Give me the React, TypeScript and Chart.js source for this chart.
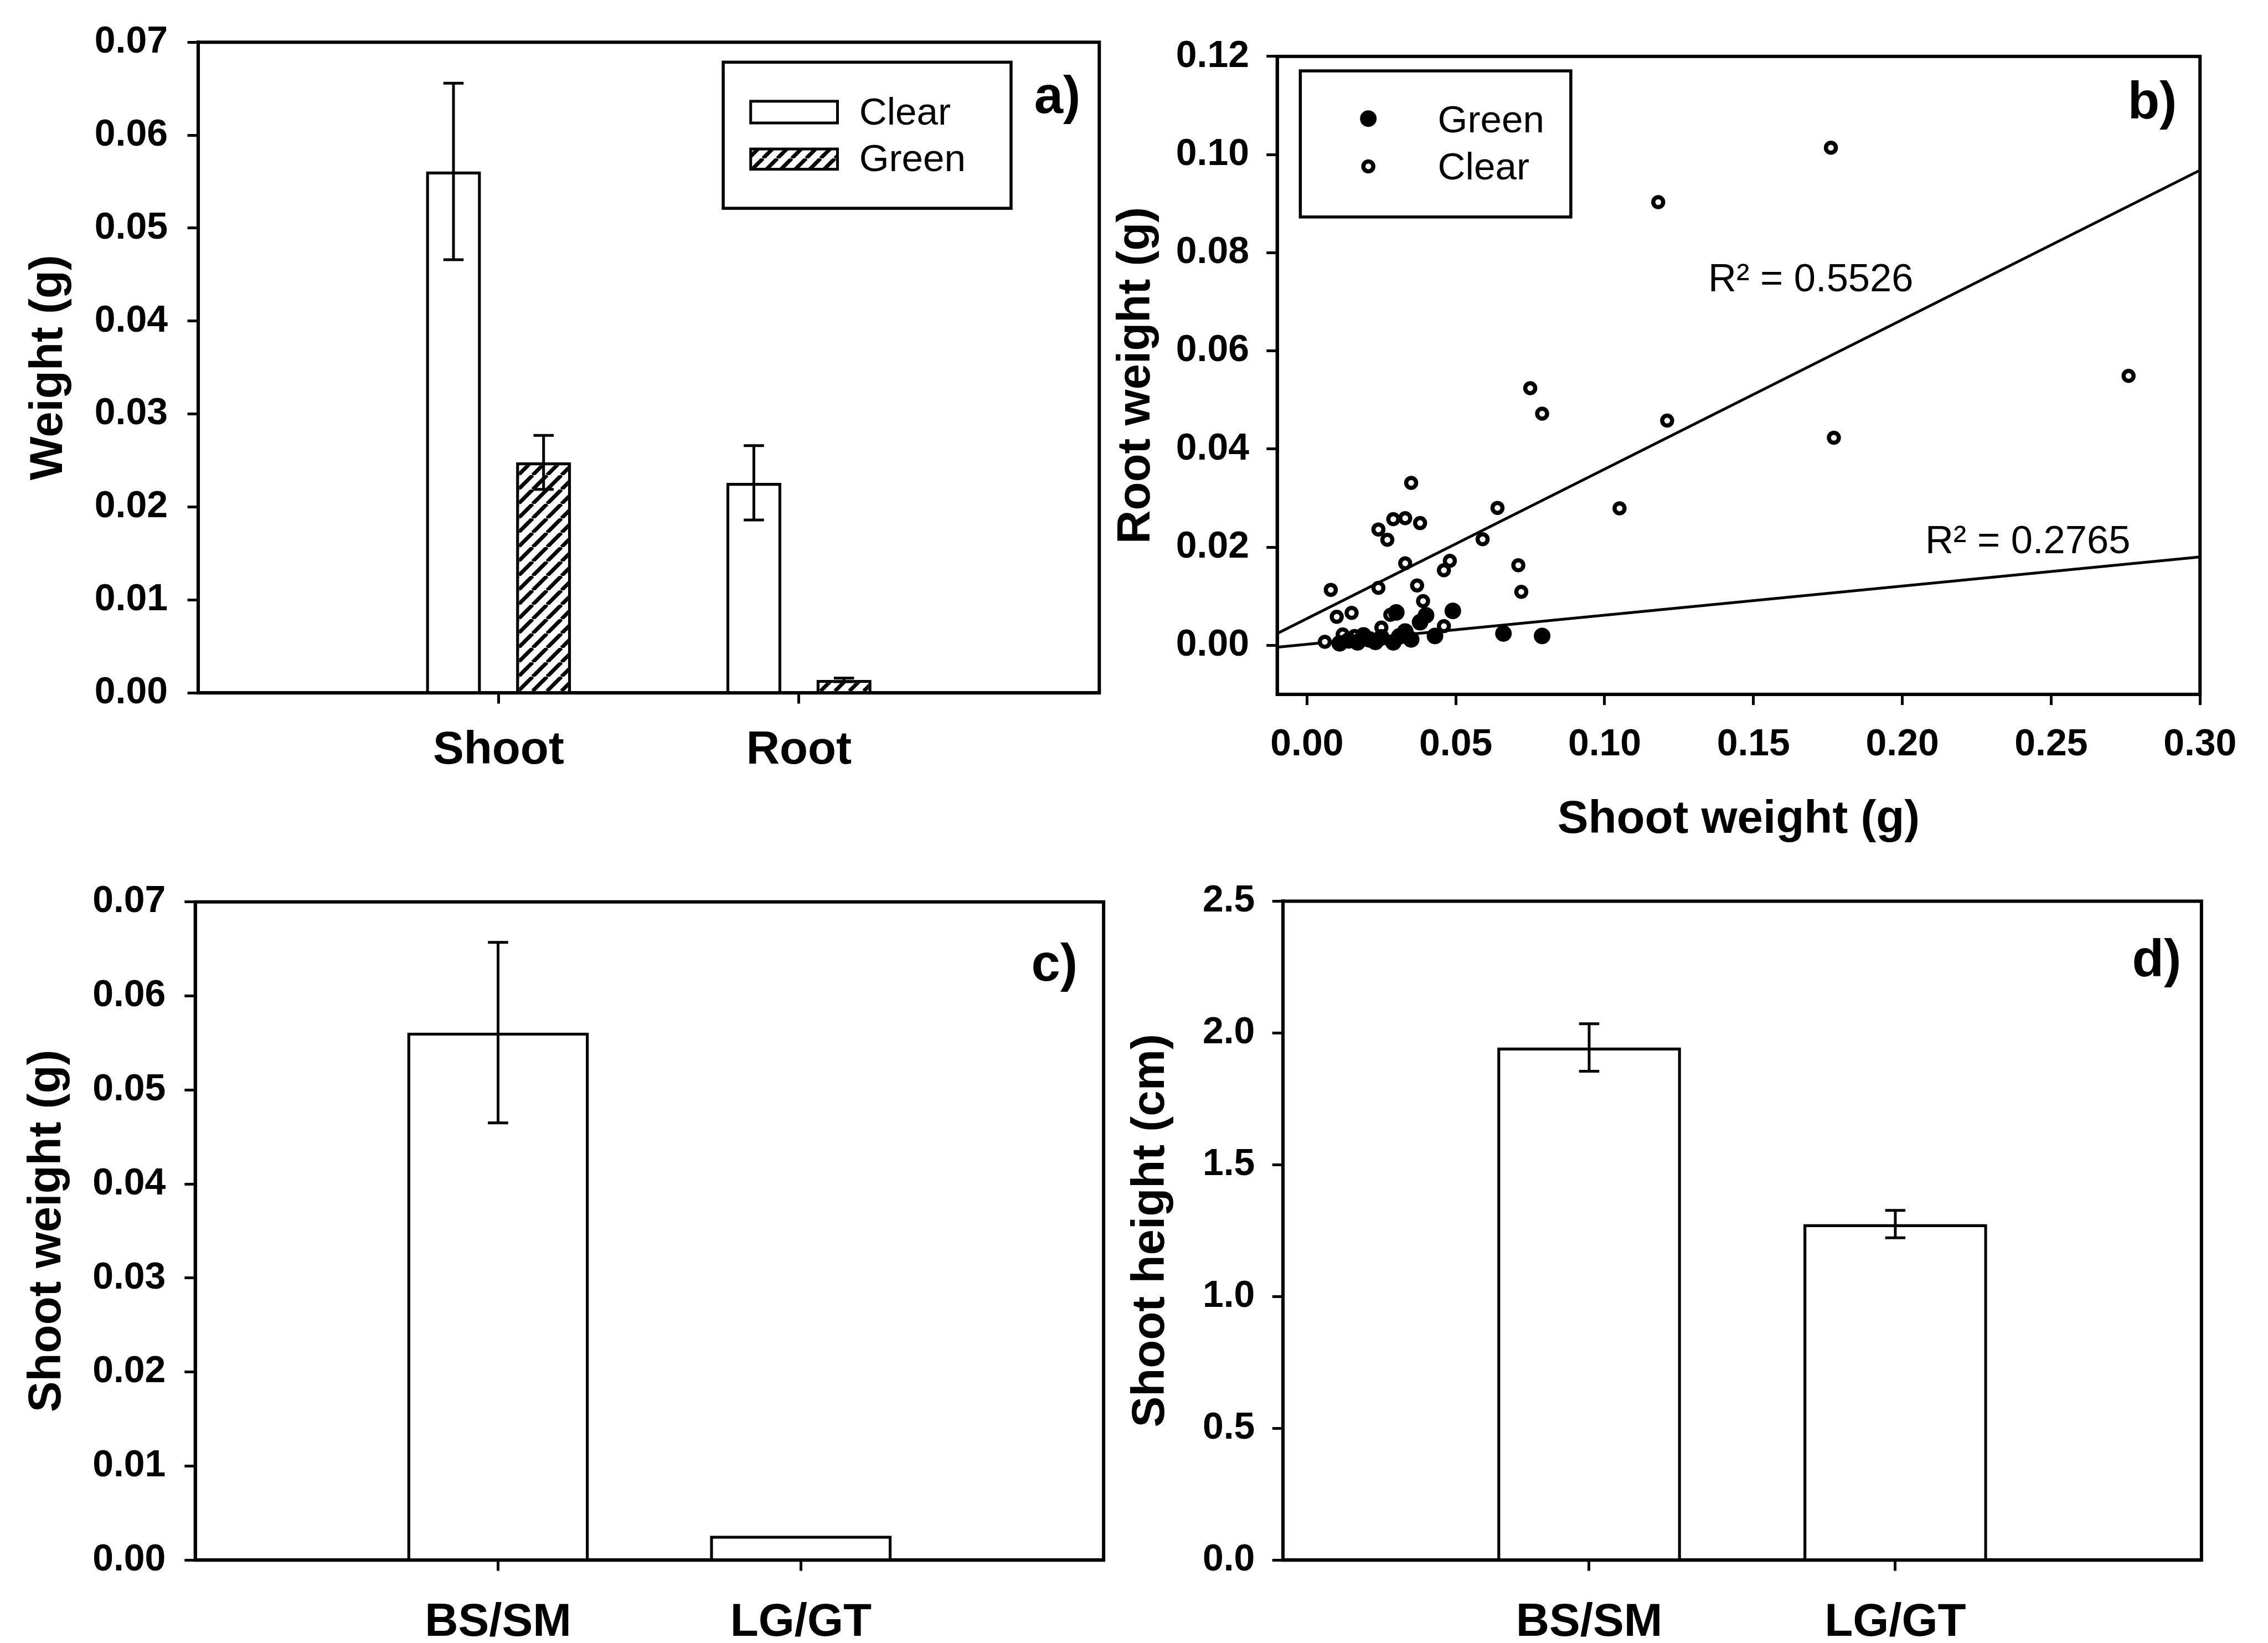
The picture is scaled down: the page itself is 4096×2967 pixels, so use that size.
import React, { useEffect, useRef } from "react";
import { Chart, registerables } from "chart.js";

Chart.register(...registerables);

// ---------------- data ----------------
// Panel a
const aCategories = ["Shoot", "Root"];
const aClearValues = [0.0561, 0.0226];
const aClearErrors = [0.0095, 0.004];
const aGreenValues = [0.0248, 0.0014];
const aGreenErrors = [0.0029, 0.0002];
const aYTicks = [0, 0.01, 0.02, 0.03, 0.04, 0.05, 0.06, 0.07];
const aLegend = ["Clear", "Green"];

// Panel b
const bGreenX = [0.011, 0.014, 0.017, 0.019, 0.021, 0.023, 0.025, 0.029, 0.03, 0.031, 0.033, 0.035, 0.038, 0.04, 0.043, 0.049, 0.066, 0.079];
const bGreenY = [0.0004, 0.001, 0.0006, 0.002, 0.0012, 0.0007, 0.0016, 0.0006, 0.0067, 0.0018, 0.0028, 0.0012, 0.0047, 0.0061, 0.0019, 0.007, 0.0024, 0.0019];
const bClearX = [0.176, 0.118, 0.276, 0.075, 0.079, 0.121, 0.177, 0.035, 0.064, 0.105, 0.029, 0.033, 0.038, 0.024, 0.027, 0.059, 0.033, 0.048, 0.046, 0.071, 0.008, 0.024, 0.037, 0.072, 0.039, 0.01, 0.015, 0.028, 0.046, 0.025, 0.006, 0.016, 0.012];
const bClearY = [0.1014, 0.0903, 0.0549, 0.0524, 0.0472, 0.0458, 0.0423, 0.0331, 0.028, 0.0279, 0.0257, 0.0259, 0.0249, 0.0236, 0.0215, 0.0216, 0.0167, 0.0172, 0.0153, 0.0163, 0.0113, 0.0117, 0.0122, 0.0109, 0.009, 0.0058, 0.0066, 0.0062, 0.0039, 0.0036, 0.0007, 0.0019, 0.0022];
const bFitX = [-0.01, 0.3];
const bClearFitY = [0.0024, 0.0968];
const bGreenFitY = [-0.0004, 0.018];
const bXTicks = [0, 0.05, 0.1, 0.15, 0.2, 0.25, 0.3];
const bYTicks = [0, 0.02, 0.04, 0.06, 0.08, 0.1, 0.12];
const bR2Labels = ["R\u00B2 = 0.5526", "R\u00B2 = 0.2765"];
const bLegend = ["Green", "Clear"];

// Panel c
const cCategories = ["BS/SM", "LG/GT"];
const cValues = [0.0561, 0.0026];
const cErrors = [0.0096, 0];
const cYTicks = [0, 0.01, 0.02, 0.03, 0.04, 0.05, 0.06, 0.07];

// Panel d
const dCategories = ["BS/SM", "LG/GT"];
const dValues = [1.945, 1.275];
const dErrors = [0.09, 0.052];
const dYTicks = [0, 0.5, 1, 1.5, 2, 2.5];

// ---------------- geometry / style ----------------
const S = 4096 / 1568;
const PAGE_W = 4096;
const PAGE_H = 2967;
const FAMILY = '"Liberation Sans", Arial, Helvetica, sans-serif';
const TICK_SIZE = 26;
const TITLE_SIZE = 32;
const CAT_SIZE = 32;
const LETTER_SIZE = 36;
const LEGEND_SIZE = 26.5;
const TICK_LEN = 7.4 * S;
const AXIS_W = 6;
const TICK_W = 5;
const BAR_W = 5.5;
const ERR_W = 5;
const FIT_W = 5;

type Rect4 = [number, number, number, number];
interface Geo { canvas: Rect4; plot: Rect4; }

const GEO_A: Geo = { canvas: [0, 0, 766, 595], plot: [137, 27, 760, 479] };
const GEO_B: Geo = { canvas: [766, 0, 802, 595], plot: [883, 39, 1521, 480] };
const GEO_C: Geo = { canvas: [0, 595, 766, 541], plot: [135, 622, 763, 1078.5] };
const GEO_D: Geo = { canvas: [766, 595, 802, 541], plot: [887, 623, 1522, 1078.5] };
const GEOS = [GEO_A, GEO_B, GEO_C, GEO_D];

function canvasBox(g: Geo) {
  const x0 = Math.round(g.canvas[0] * S);
  const y0 = Math.round(g.canvas[1] * S);
  const x1 = Math.min(PAGE_W, Math.round((g.canvas[0] + g.canvas[2]) * S));
  const y1 = Math.min(PAGE_H, Math.round((g.canvas[1] + g.canvas[3]) * S));
  return { cx: x0, cy: y0, cw: x1 - x0, ch: y1 - y0 };
}

function layoutFor(g: Geo) {
  const { cx, cy, cw, ch } = canvasBox(g);
  const [L, T, R, B] = g.plot.map((v) => v * S);
  return {
    cx, cy, cw, ch,
    yW: L - cx,
    xH: cy + ch - B,
    padding: { left: 0, top: T - cy, right: cx + cw - R, bottom: 0 },
  };
}

const font = (size: number, bold: boolean) => ({
  family: FAMILY,
  size: size * S,
  weight: bold ? "bold" : "normal",
  lineHeight: 1.2,
});

function axisLines() {
  return {
    grid: {
      display: true,
      drawOnChartArea: false,
      drawTicks: true,
      tickLength: TICK_LEN,
      tickWidth: TICK_W,
      tickColor: "#000",
      lineWidth: TICK_W,
      color: "#000",
      offset: false,
    },
    border: { display: true, color: "#000", width: AXIS_W },
  };
}

function yAxis(lay: any, ticks: number[], min: number, max: number, decimals: number, title: string, titleX: number, labelPad: number) {
  const tf = font(TITLE_SIZE, true);
  return {
    type: "linear",
    min,
    max,
    afterBuildTicks: (s: any) => { s.ticks = ticks.map((v) => ({ value: v })); },
    afterFit: (s: any) => { s.width = lay.yW; },
    ticks: {
      callback: (v: any) => Number(v).toFixed(decimals),
      font: font(TICK_SIZE, true),
      color: "#000",
      padding: labelPad * S,
      autoSkip: false,
    },
    title: {
      display: true,
      text: title,
      font: tf,
      color: "#000",
      padding: { top: titleX * S - lay.cx - (tf.size * 1.2) / 2, bottom: 0 },
    },
    ...axisLines(),
  };
}

// ---------------- drawing helpers ----------------
function makeDraw(ctx: CanvasRenderingContext2D, cx: number, cy: number) {
  const X = (x: number) => x * S - cx;
  const Y = (y: number) => y * S - cy;
  return {
    ctx,
    text(str: string, x: number, y: number, size: number, bold: boolean, align: CanvasTextAlign) {
      ctx.font = `${bold ? "bold " : ""}${size * S}px ${FAMILY}`;
      ctx.fillStyle = "#000";
      ctx.textAlign = align;
      ctx.textBaseline = "middle";
      ctx.fillText(str, X(x), Y(y));
    },
    rect(x1: number, y1: number, x2: number, y2: number, fill: any, lw: number) {
      if (fill) {
        ctx.fillStyle = fill;
        ctx.fillRect(X(x1), Y(y1), X(x2) - X(x1), Y(y2) - Y(y1));
      }
      ctx.strokeStyle = "#000";
      ctx.lineWidth = lw;
      ctx.strokeRect(X(x1), Y(y1), X(x2) - X(x1), Y(y2) - Y(y1));
    },
    dot(x: number, y: number, rPx: number, fill: string, lw: number) {
      ctx.beginPath();
      ctx.arc(X(x), Y(y), rPx, 0, Math.PI * 2);
      ctx.fillStyle = fill;
      ctx.fill();
      if (lw > 0) {
        ctx.strokeStyle = "#000";
        ctx.lineWidth = lw;
        ctx.stroke();
      }
    },
  };
}

function decorPlugin(cx: number, cy: number, draw: (d: ReturnType<typeof makeDraw>) => void) {
  return {
    id: "decor",
    afterDraw(chart: any) {
      const ctx = chart.ctx as CanvasRenderingContext2D;
      ctx.save();
      draw(makeDraw(ctx, cx, cy));
      ctx.restore();
    },
  };
}

const framePlugin = {
  id: "frame",
  afterDatasetsDraw(chart: any) {
    const { left, top, right, bottom } = chart.chartArea;
    const ctx = chart.ctx as CanvasRenderingContext2D;
    ctx.save();
    ctx.strokeStyle = "#000";
    ctx.lineWidth = AXIS_W;
    ctx.strokeRect(left, top, right - left, bottom - top);
    ctx.restore();
  },
};

function errorBarPlugin(errs: number[][]) {
  return {
    id: "errorBars",
    afterDatasetsDraw(chart: any) {
      const ctx = chart.ctx as CanvasRenderingContext2D;
      const ys = chart.scales.y;
      const cap = 7 * S;
      ctx.save();
      ctx.strokeStyle = "#000";
      ctx.lineWidth = ERR_W;
      errs.forEach((arr, di) => {
        const meta = chart.getDatasetMeta(di);
        meta.data.forEach((el: any, i: number) => {
          const e = arr[i];
          if (!e) return;
          const v = chart.data.datasets[di].data[i].y;
          const yt = ys.getPixelForValue(v + e);
          const yb = ys.getPixelForValue(v - e);
          ctx.beginPath();
          ctx.moveTo(el.x, yt);
          ctx.lineTo(el.x, yb);
          ctx.moveTo(el.x - cap, yt);
          ctx.lineTo(el.x + cap, yt);
          ctx.moveTo(el.x - cap, yb);
          ctx.lineTo(el.x + cap, yb);
          ctx.stroke();
        });
      });
      ctx.restore();
    },
  };
}

function makeHatch(): CanvasPattern | string {
  const p = Math.round(10 * S);
  const c = document.createElement("canvas");
  c.width = p;
  c.height = p;
  const g = c.getContext("2d");
  if (!g) return "#888";
  g.fillStyle = "#fff";
  g.fillRect(0, 0, p, p);
  g.strokeStyle = "#000";
  g.lineWidth = 7;
  g.beginPath();
  for (const o of [-p, 0, p]) {
    g.moveTo(o, p);
    g.lineTo(o + p, 0);
  }
  g.stroke();
  return g.createPattern(c, "repeat") || "#888";
}

// ---------------- panel configs ----------------
function barPanel(
  geo: Geo,
  o: {
    categories: string[];
    series: { values: number[]; errors: number[]; fill: any }[];
    yTicks: number[];
    yMax: number;
    decimals: number;
    yTitle: string;
    yTitleX: number;
    xLabelPad: number;
    yLabelPad: number;
    catPct: number;
    barPct: number;
    decor: (d: ReturnType<typeof makeDraw>) => void;
  }
) {
  const lay = layoutFor(geo);
  return {
    type: "bar",
    data: {
      datasets: o.series.map((s) => ({
        data: s.values.map((v, i) => ({ x: i + 1, y: v })),
        backgroundColor: s.fill,
        borderColor: "#000",
        borderWidth: BAR_W,
        borderSkipped: "start",
        categoryPercentage: o.catPct,
        barPercentage: o.barPct,
      })),
    },
    options: {
      animation: false,
      responsive: false,
      maintainAspectRatio: false,
      events: [],
      layout: { padding: lay.padding },
      plugins: { legend: { display: false }, tooltip: { enabled: false }, title: { display: false } },
      scales: {
        x: {
          type: "linear",
          min: 0,
          max: 3,
          offset: false,
          afterBuildTicks: (s: any) => { s.ticks = o.categories.map((_, i) => ({ value: i + 1 })); },
          afterFit: (s: any) => { s.height = lay.xH; },
          ticks: {
            callback: (_v: any, i: number) => o.categories[i] ?? "",
            font: font(CAT_SIZE, true),
            color: "#000",
            padding: o.xLabelPad * S,
            maxRotation: 0,
            minRotation: 0,
            autoSkip: false,
          },
          ...axisLines(),
        },
        y: yAxis(lay, o.yTicks, 0, o.yMax, o.decimals, o.yTitle, o.yTitleX, o.yLabelPad),
      },
    },
    plugins: [errorBarPlugin(o.series.map((s) => s.errors)), framePlugin, decorPlugin(lay.cx, lay.cy, o.decor)],
  };
}

function configA(hatch: any) {
  return barPanel(GEO_A, {
    categories: aCategories,
    series: [
      { values: aClearValues, errors: aClearErrors, fill: "#fff" },
      { values: aGreenValues, errors: aGreenErrors, fill: hatch },
    ],
    yTicks: aYTicks,
    yMax: 0.07,
    decimals: 2,
    yTitle: "Weight (g)",
    yTitleX: 34,
    xLabelPad: 13.6,
    yLabelPad: 13.6,
    catPct: 0.6,
    barPct: 0.61,
    decor: (d) => {
      d.rect(500, 43, 699, 144, null, 5.5);
      d.rect(519, 70, 579, 85, "#fff", 5);
      d.rect(519, 103, 579, 117, hatch, 5);
      d.text(aLegend[0], 594, 79, LEGEND_SIZE, false, "left");
      d.text(aLegend[1], 594, 111, LEGEND_SIZE, false, "left");
      d.text("a)", 731, 68, LETTER_SIZE, true, "center");
    },
  });
}

function configC() {
  return barPanel(GEO_C, {
    categories: cCategories,
    series: [{ values: cValues, errors: cErrors, fill: "#fff" }],
    yTicks: cYTicks,
    yMax: 0.07,
    decimals: 2,
    yTitle: "Shoot weight (g)",
    yTitleX: 33,
    xLabelPad: 17,
    yLabelPad: 13,
    catPct: 0.6,
    barPct: 1,
    decor: (d) => {
      d.text("c)", 729, 668, LETTER_SIZE, true, "center");
    },
  });
}

function configD() {
  return barPanel(GEO_D, {
    categories: dCategories,
    series: [{ values: dValues, errors: dErrors, fill: "#fff" }],
    yTicks: dYTicks,
    yMax: 2.5,
    decimals: 1,
    yTitle: "Shoot height (cm)",
    yTitleX: 796,
    xLabelPad: 17,
    yLabelPad: 12,
    catPct: 0.6,
    barPct: 1,
    decor: (d) => {
      d.text("d)", 1491, 665, LETTER_SIZE, true, "center");
    },
  });
}

const GREEN_R = 13;
const GREEN_BW = 4;
const CLEAR_R = 9;
const CLEAR_BW = 7.5;

function configB() {
  const lay = layoutFor(GEO_B);
  const tf = font(TITLE_SIZE, true);
  const xTitleCenter = 567 * S - lay.cy;
  return {
    type: "scatter",
    data: {
      datasets: [
        {
          label: bLegend[0],
          data: bGreenX.map((x, i) => ({ x, y: bGreenY[i] })),
          pointRadius: GREEN_R,
          pointBorderWidth: GREEN_BW,
          pointBackgroundColor: "#000",
          pointBorderColor: "#000",
          showLine: false,
        },
        {
          label: bLegend[1],
          data: bClearX.map((x, i) => ({ x, y: bClearY[i] })),
          pointRadius: CLEAR_R,
          pointBorderWidth: CLEAR_BW,
          pointBackgroundColor: "#fff",
          pointBorderColor: "#000",
          showLine: false,
        },
        {
          label: "Clear fit",
          data: bFitX.map((x, i) => ({ x, y: bClearFitY[i] })),
          showLine: true,
          pointRadius: 0,
          borderColor: "#000",
          borderWidth: FIT_W,
          fill: false,
        },
        {
          label: "Green fit",
          data: bFitX.map((x, i) => ({ x, y: bGreenFitY[i] })),
          showLine: true,
          pointRadius: 0,
          borderColor: "#000",
          borderWidth: FIT_W,
          fill: false,
        },
      ],
    },
    options: {
      animation: false,
      responsive: false,
      maintainAspectRatio: false,
      events: [],
      layout: { padding: lay.padding },
      plugins: { legend: { display: false }, tooltip: { enabled: false }, title: { display: false } },
      scales: {
        x: {
          type: "linear",
          min: -0.01,
          max: 0.3,
          afterBuildTicks: (s: any) => { s.ticks = bXTicks.map((v) => ({ value: v })); },
          afterFit: (s: any) => { s.height = lay.xH; },
          ticks: {
            callback: (v: any) => Number(v).toFixed(2),
            font: font(TICK_SIZE, true),
            color: "#000",
            padding: 12 * S,
            maxRotation: 0,
            minRotation: 0,
            autoSkip: false,
          },
          title: {
            display: true,
            text: "Shoot weight (g)",
            font: tf,
            color: "#000",
            padding: { top: 0, bottom: lay.ch - xTitleCenter - (tf.size * 1.2) / 2 },
          },
          ...axisLines(),
        },
        y: yAxis(lay, bYTicks, -0.01, 0.12, 2, "Root weight (g)", 786, 12),
      },
    },
    plugins: [
      framePlugin,
      decorPlugin(lay.cx, lay.cy, (d) => {
        d.rect(899, 49, 1086, 150, null, 5.5);
        d.dot(946, 82, GREEN_R, "#000", GREEN_BW);
        d.dot(946, 115, CLEAR_R, "#fff", CLEAR_BW);
        d.text(bLegend[0], 994, 84, LEGEND_SIZE, false, "left");
        d.text(bLegend[1], 994, 116.6, LEGEND_SIZE, false, "left");
        d.text(bR2Labels[0], 1181, 194, 27, false, "left");
        d.text(bR2Labels[1], 1331, 375, 27, false, "left");
        d.text("b)", 1488, 72, LETTER_SIZE, true, "center");
      }),
    ],
  };
}

// ---------------- component ----------------
export default function App() {
  const r0 = useRef<HTMLCanvasElement>(null);
  const r1 = useRef<HTMLCanvasElement>(null);
  const r2 = useRef<HTMLCanvasElement>(null);
  const r3 = useRef<HTMLCanvasElement>(null);
  const refs = [r0, r1, r2, r3];

  useEffect(() => {
    Chart.defaults.font.family = FAMILY;
    Chart.defaults.color = "#000";
    const hatch = makeHatch();
    const cfgs: any[] = [configA(hatch), configB(), configC(), configD()];
    const charts = cfgs.map((cfg, i) => new Chart(refs[i].current as HTMLCanvasElement, cfg));
    return () => charts.forEach((c) => c.destroy());
  }, []);

  return (
    <div style={{ position: "absolute", left: 0, top: 0, width: PAGE_W, height: PAGE_H, background: "#fff", overflow: "hidden" }}>
      {GEOS.map((g, i) => {
        const b = canvasBox(g);
        return (
          <canvas
            key={i}
            ref={refs[i]}
            width={b.cw}
            height={b.ch}
            style={{ position: "absolute", left: b.cx, top: b.cy, width: b.cw, height: b.ch, display: "block" }}
          />
        );
      })}
    </div>
  );
}
